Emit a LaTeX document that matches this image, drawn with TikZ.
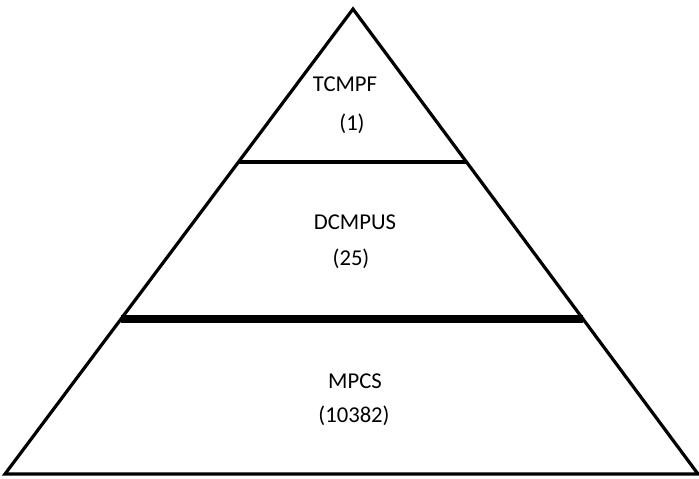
\documentclass[tikz,border=0pt]{standalone}
\usepackage{fontspec}
\setmainfont{Carlito}
\usetikzlibrary{calc}
\begin{document}
\begin{tikzpicture}[
  x=0.75pt, y=-0.75pt,
  every node/.style={font=\fontsize{17}{20}\selectfont, inner sep=0pt, anchor=base},
  side/.style={line width=2.4pt, line join=miter},
  tier/.style={line width=#1}
]
\useasboundingbox (0,0) rectangle (699,478);
% corners of the pyramid
\coordinate (apex) at (353,9);
\coordinate (bl) at (5,474);
\coordinate (br) at (698,474);
% ends of the dividing lines
\coordinate (l1) at ($(apex)!0.329!(bl)$);
\coordinate (r1) at ($(apex)!0.329!(br)$);
\coordinate (l2) at ($(apex)!0.667!(bl)$);
\coordinate (r2) at ($(apex)!0.667!(br)$);
\draw[side] (bl) -- (apex) -- (br) -- cycle;
\draw[tier=3pt] (l1) -- (r1);
\draw[tier=6pt] (l2) -- (r2);
% labels
\node (tcmpf) at (345,92) {TCMPF};
\node (tcmpfn) at (352,130) {(1)};
\node (dcmpus) at (355,229) {DCMPUS};
\node (dcmpusn) at (351,265) {(25)};
\node (mpcs) at (355,388) {MPCS};
\node (mpcsn) at (354,422) {(10382)};
\end{tikzpicture}
\end{document}
